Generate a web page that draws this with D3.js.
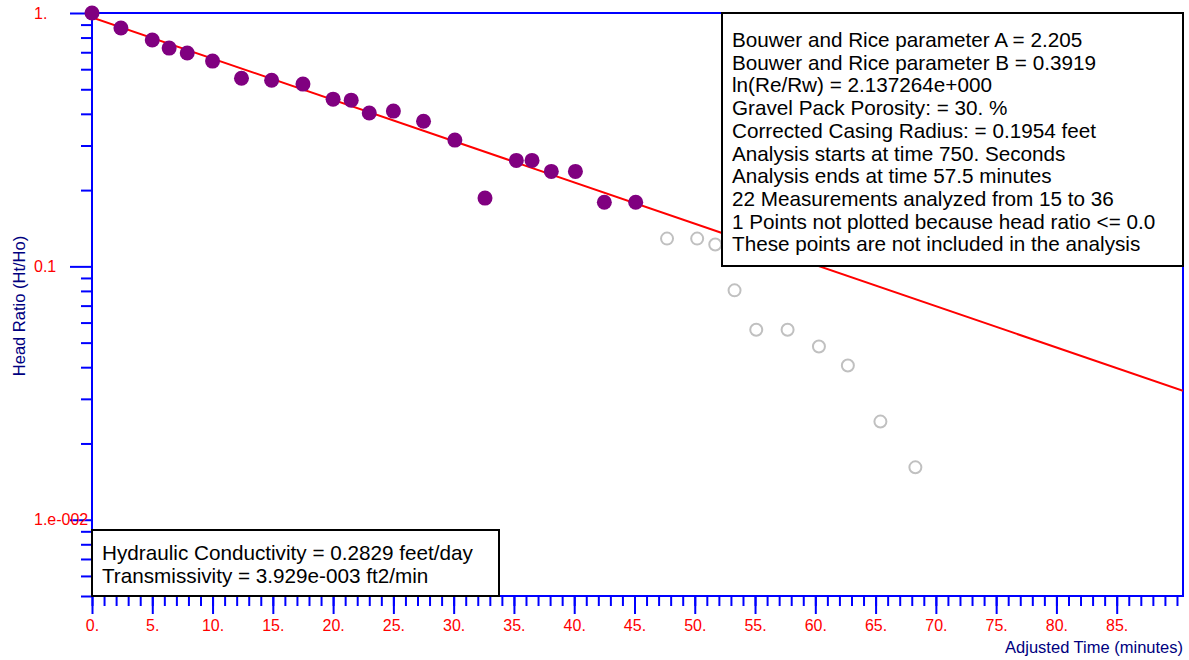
<!DOCTYPE html>
<html>
<head>
<meta charset="utf-8">
<script src="https://cdn.jsdelivr.net/npm/d3@7"></script>
<style>
  body { margin: 0; background: #fff; }
  svg { display: block; font-family: "Liberation Sans", Arial, sans-serif; }
</style>
</head>
<body>
<svg id="chart" width="1189" height="660"></svg>
<script>
// analysed measurements (minutes, Ht/Ho)
const fitTimes = [0, 2.4, 5, 6.4, 7.9, 10, 12.4, 14.9, 17.5, 20, 21.5, 23, 25, 27.5, 30.1, 32.6, 35.2, 36.5, 38.1, 40.1, 42.5, 45.1];
const fitRatios = [1.0, 0.872, 0.782, 0.727, 0.695, 0.646, 0.553, 0.543, 0.524, 0.457, 0.453, 0.403, 0.410, 0.374, 0.315, 0.186, 0.262, 0.262, 0.237, 0.237, 0.179, 0.179];

// points outside the analysis window
const otherTimes = [47.7, 50.2, 51.7, 53.3, 55.1, 57.7, 60.3, 62.7, 65.4, 68.3];
const otherRatios = [0.1287, 0.1287, 0.122, 0.0804, 0.0562, 0.0562, 0.0483, 0.0406, 0.0244, 0.0161];

// fitted line end points
const lineTimes = [0, 90.5];
const lineRatios = [0.961, 0.0323];

const xMajorTicks = d3.range(0, 90, 5);
const xMinorTicks = d3.range(0, 91, 1);
const yMajorTicks = [1, 0.1, 0.01];
const yMajorLabels = ["1.", "0.1", "1.e-002"];
const yMinorTicks = [0.9, 0.8, 0.7, 0.6, 0.5, 0.4, 0.3, 0.2,
                     0.09, 0.08, 0.07, 0.06, 0.05, 0.04, 0.03, 0.02,
                     0.009, 0.008, 0.007, 0.006, 0.005];

const infoLines = [
  "Bouwer and Rice parameter A = 2.205",
  "Bouwer and Rice parameter B = 0.3919",
  "ln(Re/Rw) = 2.137264e+000",
  "Gravel Pack Porosity: = 30. %",
  "Corrected Casing Radius: = 0.1954 feet",
  "Analysis starts at time 750. Seconds",
  "Analysis ends at time 57.5 minutes",
  "22 Measurements analyzed from 15 to 36",
  "1 Points not plotted because head ratio <= 0.0",
  "These points are not included in the analysis"
];
const resultLines = [
  "Hydraulic Conductivity = 0.2829 feet/day",
  "Transmissivity = 3.929e-003 ft2/min"
];

const svg = d3.select("#chart");
const plot = {left: 92, top: 13, right: 1183, bottom: 596};

const x = d3.scaleLinear().domain([0, 90.5]).range([plot.left, plot.right]);
const y = d3.scaleLog().domain([0.005, 1]).range([plot.bottom, plot.top]);

const axisBlue = "#0000ff";
const labelRed = "#ff0000";
const titleBlue = "#000080";

// frame
svg.append("rect")
  .attr("x", plot.left).attr("y", plot.top)
  .attr("width", plot.right - plot.left).attr("height", plot.bottom - plot.top)
  .attr("fill", "none").attr("stroke", axisBlue).attr("stroke-width", 2);

// x axis ticks
const xMinor = d3.axisBottom(x).tickValues(xMinorTicks).tickSize(10).tickFormat("");
const xMajor = d3.axisBottom(x).tickValues(xMajorTicks).tickSize(18).tickPadding(6)
  .tickFormat(d => d + ".");

svg.append("g").attr("transform", `translate(0,${plot.bottom})`).call(xMinor)
  .call(g => g.select(".domain").remove())
  .call(g => g.selectAll("line").attr("stroke", axisBlue).attr("stroke-width", 2));

svg.append("g").attr("transform", `translate(0,${plot.bottom})`).call(xMajor)
  .call(g => g.select(".domain").remove())
  .call(g => g.selectAll("line").attr("stroke", axisBlue).attr("stroke-width", 2))
  .call(g => g.selectAll("text").attr("fill", labelRed)
    .style("font-size", "16px").style("font-family", "Liberation Sans, Arial, sans-serif"));

// y axis ticks
const yMinor = d3.axisLeft(y).tickValues(yMinorTicks).tickSize(11).tickFormat("");
const yMajor = d3.axisLeft(y).tickValues(yMajorTicks).tickSize(22).tickFormat("");

svg.append("g").attr("transform", `translate(${plot.left},0)`).call(yMinor)
  .call(g => g.select(".domain").remove())
  .call(g => g.selectAll("line").attr("stroke", axisBlue).attr("stroke-width", 2));
svg.append("g").attr("transform", `translate(${plot.left},0)`).call(yMajor)
  .call(g => g.select(".domain").remove())
  .call(g => g.selectAll("line").attr("stroke", axisBlue).attr("stroke-width", 2));

svg.append("g").selectAll("text")
  .data(yMajorTicks)
  .join("text")
  .attr("x", 34)
  .attr("y", d => y(d))
  .attr("dy", "0.35em")
  .attr("fill", labelRed)
  .style("font-size", "16px")
  .text((d, i) => yMajorLabels[i]);

// axis titles
svg.append("text")
  .attr("transform", "translate(25,306) rotate(-90)")
  .attr("text-anchor", "middle")
  .attr("fill", titleBlue)
  .style("font-size", "16.5px")
  .text("Head Ratio (Ht/Ho)");

svg.append("text")
  .attr("x", plot.right)
  .attr("y", 653)
  .attr("text-anchor", "end")
  .attr("fill", titleBlue)
  .style("font-size", "16.5px")
  .text("Adjusted Time (minutes)");

// clip to plot area
svg.append("clipPath").attr("id", "plotClip")
  .append("rect")
  .attr("x", plot.left).attr("y", plot.top)
  .attr("width", plot.right - plot.left).attr("height", plot.bottom - plot.top);

const marks = svg.append("g");

// points outside the analysis
marks.append("g").selectAll("circle")
  .data(otherTimes)
  .join("circle")
  .attr("cx", d => x(d))
  .attr("cy", (d, i) => y(otherRatios[i]))
  .attr("r", 6)
  .attr("fill", "none")
  .attr("stroke", "#c0c0c0")
  .attr("stroke-width", 2);

// fitted line
const line = d3.line().x(d => x(d[0])).y(d => y(d[1]));
marks.append("path")
  .datum(lineTimes.map((t, i) => [t, lineRatios[i]]))
  .attr("d", line)
  .attr("fill", "none")
  .attr("stroke", "#ff0000")
  .attr("stroke-width", 2)
  .attr("clip-path", "url(#plotClip)");

// analysed points
marks.append("g").selectAll("circle")
  .data(fitTimes)
  .join("circle")
  .attr("cx", d => x(d))
  .attr("cy", (d, i) => y(fitRatios[i]))
  .attr("r", 7.5)
  .attr("fill", "#800080");

// white boxes with black text
function textBox(x0, y0, w, h, lines, firstBase, step) {
  const g = svg.append("g");
  g.append("rect")
    .attr("x", x0).attr("y", y0).attr("width", w).attr("height", h)
    .attr("fill", "#fff").attr("stroke", "#000").attr("stroke-width", 2);
  g.selectAll("text")
    .data(lines)
    .join("text")
    .attr("x", x0 + 10)
    .attr("y", (d, i) => y0 + firstBase + i * step)
    .attr("fill", "#000")
    .style("font-size", "20.7px")
    .text(d => d);
}

textBox(722, 13, 461, 253, infoLines, 34, 22.7);
textBox(92, 530, 407, 66, resultLines, 30, 23);
</script>
</body>
</html>
